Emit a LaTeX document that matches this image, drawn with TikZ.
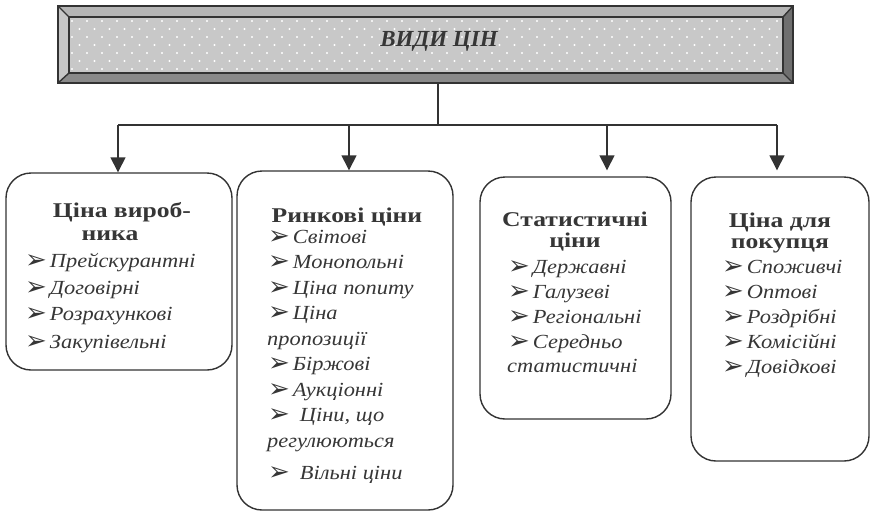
\documentclass[tikz,border=0pt]{standalone}
\usepackage{fontspec}
\setmainfont{Liberation Serif}
\newfontfamily\hdfont[FakeStretch=1.22]{Liberation Serif}
\newfontfamily\itfont[FakeStretch=1.12]{Liberation Serif}
\newfontfamily\arrowfont{DejaVu Sans}
\usetikzlibrary{arrows.meta}
\definecolor{ink}{HTML}{333333}
\definecolor{txt}{HTML}{363636}
\definecolor{bevT}{HTML}{B5B5B5}
\definecolor{bevL}{HTML}{C6C6C6}
\definecolor{bevB}{HTML}{8A8A8A}
\definecolor{bevR}{HTML}{6F6F6F}
\definecolor{panel}{HTML}{C8C8C8}
\newcommand{\mk}{{\arrowfont\fontsize{26}{26}\selectfont\raisebox{-1pt}{➢}}}
\begin{document}
\begin{tikzpicture}[x=1pt,y=-1pt,
  line/.style={draw=ink, line width=1.4pt},
  arr/.style={draw=ink, line width=1.4pt, -{Triangle[width=15pt,length=15pt]}},
  box/.style={draw=ink, line width=1.4pt, rounded corners=25pt, inner sep=0pt},
  hd/.style={anchor=base, font=\hdfont\bfseries\fontsize{21}{21}\selectfont, text=txt, inner sep=0pt},
  it/.style={anchor=base west, font=\itfont\itshape\fontsize{20}{20}\selectfont, text=txt, inner sep=0pt},
  ttl/.style={font=\bfseries\itshape\fontsize{23}{23}\selectfont, text=txt, inner sep=0pt}]
\useasboundingbox (0,0) rectangle (873,512);
% title box with bevel
\fill[bevT] (58,6) -- (793,6) -- (783,17) -- (69,17) -- cycle;
\fill[bevL] (58,6) -- (69,17) -- (69,73) -- (58,83) -- cycle;
\fill[bevB] (58,83) -- (69,73) -- (783,73) -- (793,83) -- cycle;
\fill[bevR] (793,6) -- (793,83) -- (783,73) -- (783,17) -- cycle;
\fill[panel] (69,17) rectangle (783,73);
\begin{scope}
\clip (69,17) rectangle (783,73);
\foreach \r in {0,...,6}{
  \foreach \c in {0,...,48}{
    \pgfmathsetmacro{\xx}{72+15*\c+7.5*mod(\r,2)}
    \pgfmathsetmacro{\yy}{21+8*\r}
    \fill[white] (\xx,\yy) circle (1.2pt);
  }
}
\end{scope}
\draw[line] (58,6) rectangle (793,83);
\draw[line] (69,17) rectangle (783,73);
\draw[line] (58,6) -- (69,17) (793,6) -- (783,17) (58,83) -- (69,73) (793,83) -- (783,73);
\node[ttl] (title) at (439,41) {ВИДИ ЦІН};
\coordinate (tb) at (438,83);
% boxes
\node[box, minimum width=226pt, minimum height=197pt] (b1) at (119,271.5) {};
\node[box, minimum width=216pt, minimum height=339pt] (b2) at (345,340.5) {};
\node[box, minimum width=191pt, minimum height=242pt] (b3) at (575.5,298) {};
\node[box, minimum width=178pt, minimum height=284pt] (b4) at (780,319) {};
% connectors
\coordinate (hub) at (438,125);
\coordinate (j1) at (118,125);
\coordinate (j2) at (349,125);
\coordinate (j3) at (607,125);
\coordinate (j4) at (777,125);
\draw[line] (tb) -- (hub);
\draw[line] (j1) -- (j4);
\draw[arr] (j1) -- (j1 |- b1.north);
\draw[arr] (j2) -- (j2 |- b2.north);
\draw[arr, shorten >=6pt] (j3) -- (j3 |- b3.north);
\draw[arr, shorten >=6pt] (j4) -- (j4 |- b4.north);
% box 1 text
\node[hd] (b1h1) at (122,217) {Ціна вироб-};
\node[hd] (b1h2) at (110,240) {ника};
\node[it] (b1i1) at (25,267) {\mk\hspace{3pt}Прейскурантні};
\node[it] (b1i2) at (25,294) {\mk\hspace{3pt}Договірні};
\node[it] (b1i3) at (25,320) {\mk\hspace{3pt}Розрахункові};
\node[it] (b1i4) at (25,348) {\mk\hspace{3pt}Закупівельні};
% box 2 text
\node[hd] (b2h1) at (347,222) {Ринкові ціни};
\node[it] (b2i1) at (268,243) {\mk\hspace{3pt}Світові};
\node[it] (b2i2) at (268,268.5) {\mk\hspace{3pt}Монопольні};
\node[it] (b2i3) at (268,294) {\mk\hspace{3pt}Ціна попиту};
\node[it] (b2i4) at (268,319.5) {\mk\hspace{3pt}Ціна};
\node[it] (b2i4b) at (267,345) {пропозиції};
\node[it] (b2i5) at (268,370.5) {\mk\hspace{3pt}Біржові};
\node[it] (b2i6) at (268,396) {\mk\hspace{3pt}Аукціонні};
\node[it] (b2i7) at (268,421.5) {\mk\hspace{10pt}Ціни, що};
\node[it] (b2i7b) at (267,447) {регулюються};
\node[it] (b2i8) at (268,479) {\mk\hspace{10pt}Вільні ціни};
% box 3 text
\node[hd] (b3h1) at (575,226) {Статистичні};
\node[hd] (b3h2) at (575,247) {ціни};
\node[it] (b3i1) at (508,273.5) {\mk\hspace{3pt}Державні};
\node[it] (b3i2) at (508,298.5) {\mk\hspace{3pt}Галузеві};
\node[it] (b3i3) at (508,323.5) {\mk\hspace{3pt}Регіональні};
\node[it] (b3i4) at (508,348.5) {\mk\hspace{3pt}Середньо};
\node[it] (b3i4b) at (507,372) {статистичні};
% box 4 text
\node[hd] (b4h1) at (780,227) {Ціна для};
\node[hd] (b4h2) at (780,248) {покупця};
\node[it] (b4i1) at (722,273.5) {\mk\hspace{3pt}Споживчі};
\node[it] (b4i2) at (722,298.5) {\mk\hspace{3pt}Оптові};
\node[it] (b4i3) at (722,323.5) {\mk\hspace{3pt}Роздрібні};
\node[it] (b4i4) at (722,348.5) {\mk\hspace{3pt}Комісійні};
\node[it] (b4i5) at (722,373.5) {\mk\hspace{3pt}Довідкові};
\end{tikzpicture}
\end{document}
